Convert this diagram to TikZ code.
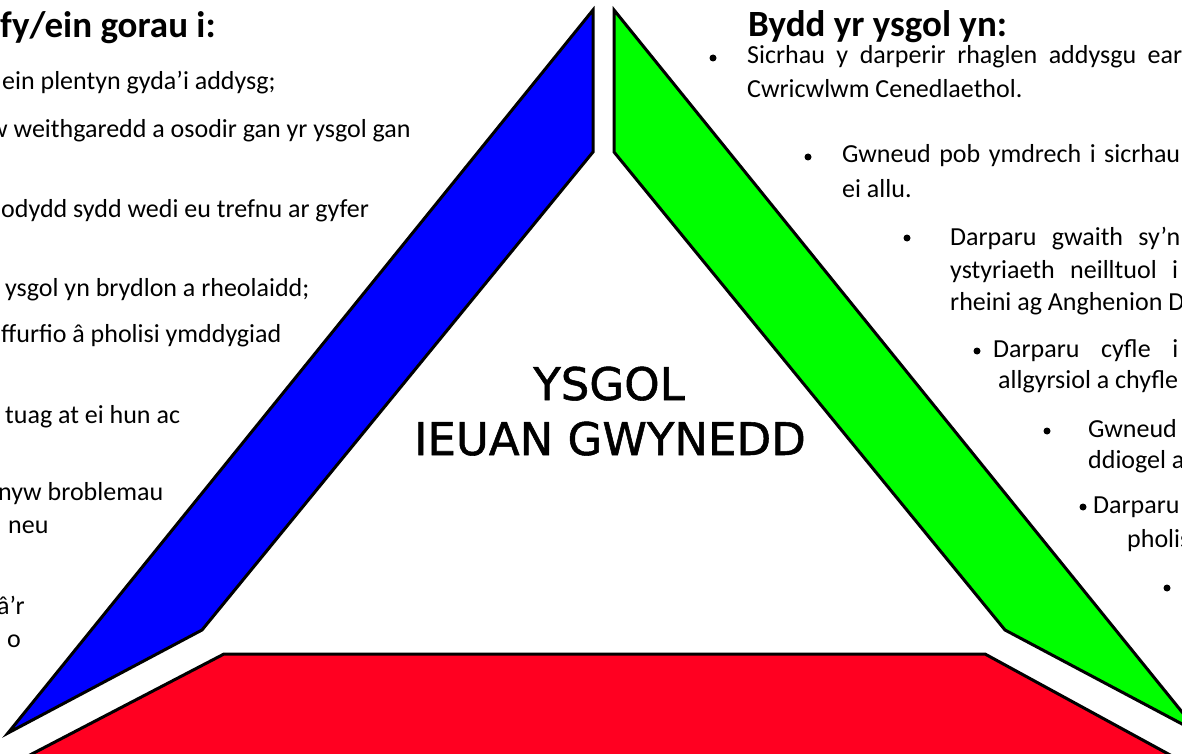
\documentclass[tikz,border=0pt]{standalone}
\usepackage{fontspec}
\setmainfont{Carlito}
\newfontfamily\titlefont[FakeBold=1.2]{DejaVu Sans}
\definecolor{shapeblue}{RGB}{0,0,255}
\definecolor{shapegreen}{RGB}{0,255,0}
\definecolor{shapered}{RGB}{255,0,33}
\begin{document}
\begin{tikzpicture}[x=1pt,y=-1pt,
  band/.style={draw=black,line width=3pt,line join=miter},
  body/.style={anchor=base west,inner sep=0pt,font=\fontsize{26}{31}\selectfont},
  head/.style={anchor=base west,inner sep=0pt,font=\fontsize{37}{44}\selectfont\bfseries},
  dot/.style={circle,fill=black,inner sep=0pt,minimum size=7pt},
  title/.style={anchor=base,inner sep=0pt,font=\titlefont\fontsize{45}{52}\selectfont}]
\useasboundingbox (0,0) rectangle (1182,754);
\clip (0,0) rectangle (1182,754);
% shapes
\draw[band,fill=shapeblue] (593,10) -- (8,733) -- (202,630) -- (593,152) -- cycle;
\draw[band,fill=shapegreen] (614,10) -- (1199,733) -- (1005,630) -- (614,152) -- cycle;
\draw[band,fill=shapered] (224,654) -- (985,654) -- (1172,756) -- (28,756) -- cycle;
% title
\node[title] (t1) at (609,400) {YSGOL};
\node[title] (t2) at (610,455) {IEUAN GWYNEDD};
% left column
\node[head] (lh) at (0,38) {fy/ein gorau i:};
\node[body] (l1) at (2,90) {ein plentyn gyda’i addysg;};
\node[body] (l2) at (-11,138) {w weithgaredd a osodir gan yr ysgol gan};
\node[body] (l3) at (1,217) {odydd sydd wedi eu trefnu ar gyfer};
\node[body] (l4) at (5,296) {ysgol yn brydlon a rheolaidd;};
\node[body] (l5) at (1,342) {ffurfio â pholisi ymddygiad};
\node[body] (l6) at (5,423) {tuag at ei hun ac};
\node[body] (l7) at (-2,500) {nyw broblemau};
\node[body] (l8) at (8,533) {neu};
\node[body] (l9) at (-3,614) {â’r};
\node[body] (l10) at (7,647) {o};
% right column
\node[head] (rh) at (748,37) {Bydd yr ysgol yn:};
\node[dot] (d1) at (713,58) {};
\node[body] (r1) at (747,64) {\makebox[435pt][s]{Sicrhau y darperir rhaglen addysgu ear}};
\node[body] (r2) at (747,98) {Cwricwlwm Cenedlaethol.};
\node[dot] (d2) at (808,157) {};
\node[body] (r3) at (842,163) {\makebox[338pt][s]{Gwneud pob ymdrech i sicrhau}};
\node[body] (r4) at (842,197) {ei allu.};
\node[dot] (d3) at (907,238) {};
\node[body] (r5) at (950,245) {\makebox[230pt][s]{Darparu gwaith sy'n}};
\node[body] (r6) at (950,278) {\makebox[228pt][s]{ystyriaeth neilltuol i}};
\node[body] (r7) at (950,310) {rheini ag Anghenion D};
\node[dot] (d4) at (977,351) {};
\node[body] (r8) at (993,357) {\makebox[185pt][s]{Darparu cyfle i}};
\node[body] (r9) at (998,388) {allgyrsiol a chyfle};
\node[dot] (d5) at (1047,431) {};
\node[body] (r10) at (1088,437) {Gwneud};
\node[body] (r11) at (1088,468) {ddiogel a};
\node[dot] (d6) at (1083,507) {};
\node[body] (r12) at (1093,513) {Darparu};
\node[body] (r13) at (1127,547) {pholis};
\node[dot] (d7) at (1167,588) {};
\end{tikzpicture}
\end{document}
